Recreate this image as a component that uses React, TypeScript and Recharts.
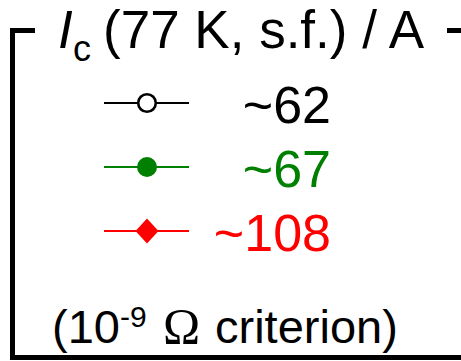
import { Legend, Line, LineChart } from 'recharts';

// legend entries: critical current per sample
const SAMPLE_KEYS = ['s1', 's2', 's3'];
const IC_VALUES = [62, 67, 108];
const SERIES_COLORS = ['#000000', '#008000', '#ff0000'];
const MARKERS = ['openCircle', 'circle', 'diamond'];

const TITLE_SYMBOL = 'I';
const TITLE_SUB = 'c';
const TITLE_REST = '(77 K, s.f.) / A';
const NOTE_BASE = '(10';
const NOTE_EXP = '-9';
const NOTE_UNIT = 'Ω';
const NOTE_REST = 'criterion)';

const FONT = '"Liberation Sans", Arial, Helvetica, sans-serif';
const SERIF = '"Liberation Serif", "Times New Roman", serif';

const rows = [
  Object.fromEntries(SAMPLE_KEYS.map((k, i) => [k, IC_VALUES[i]])),
];

const Marker = ({ kind, x, y, color }: { kind: string; x: number; y: number; color: string }) => {
  if (kind === 'openCircle')
    return <circle cx={x} cy={y} r={8.8} fill="#fff" stroke={color} strokeWidth={2.6} />;
  if (kind === 'circle') return <circle cx={x} cy={y} r={10} fill={color} />;
  return (
    <polygon
      points={`${x},${y - 12.5} ${x + 11.5},${y} ${x},${y + 12.5} ${x - 11.5},${y}`}
      fill={color}
    />
  );
};

function LegendBox(props: any) {
  const payload: any[] = props.payload || [];
  return (
    <svg width={461} height={361} style={{ display: 'block' }}>
      <path d="M35,30.5H12.5V357.5H461" fill="none" stroke="#000" strokeWidth={5} />
      <path d="M447,30.5H461" fill="none" stroke="#000" strokeWidth={5} />
      <text fontFamily={FONT} fontSize={53} fill="#000">
        <tspan x={58} y={48} fontStyle="italic">
          {TITLE_SYMBOL}
        </tspan>
        <tspan x={73} y={61} fontSize={36}>
          {TITLE_SUB}
        </tspan>
        <tspan x={103} y={48}>
          {TITLE_REST}
        </tspan>
      </text>
      {SAMPLE_KEYS.map((k, i) => {
        const y = 103 + i * 64;
        const entry = payload.find((p) => p.dataKey === k);
        const color = entry ? entry.color : SERIES_COLORS[i];
        const label = entry ? entry.value : `~${IC_VALUES[i]}`;
        return (
          <g key={k}>
            <line x1={104} x2={189} y1={y} y2={y} stroke={color} strokeWidth={2} />
            <Marker kind={MARKERS[i]} x={147} y={y} color={color} />
            <text x={331} y={y + 20} textAnchor="end" fontFamily={FONT} fontSize={52} fill={color}>
              {label}
            </text>
          </g>
        );
      })}
      <text fontFamily={FONT} fontSize={47} fill="#000">
        <tspan x={52} y={343}>
          {NOTE_BASE}
        </tspan>
        <tspan y={327} fontSize={30}>
          {NOTE_EXP}
        </tspan>
        <tspan x={163} y={343} fontFamily={SERIF} fontSize={50}>
          {NOTE_UNIT}
        </tspan>
        <tspan x={215} y={343}>
          {NOTE_REST}
        </tspan>
      </text>
    </svg>
  );
}

export default function App() {
  return (
    <div style={{ position: 'absolute', left: 0, top: 0, width: 461, height: 361, background: '#fff' }}>
      <LineChart width={461} height={361} data={rows} margin={{ top: 0, right: 0, bottom: 0, left: 0 }}>
        {SAMPLE_KEYS.map((k, i) => (
          <Line
            key={k}
            dataKey={k}
            name={`~${IC_VALUES[i]}`}
            stroke={SERIES_COLORS[i]}
            dot={false}
            isAnimationActive={false}
          />
        ))}
        <Legend
          content={LegendBox}
          wrapperStyle={{ left: 0, top: 0, width: 461, height: 361 }}
        />
      </LineChart>
    </div>
  );
}
